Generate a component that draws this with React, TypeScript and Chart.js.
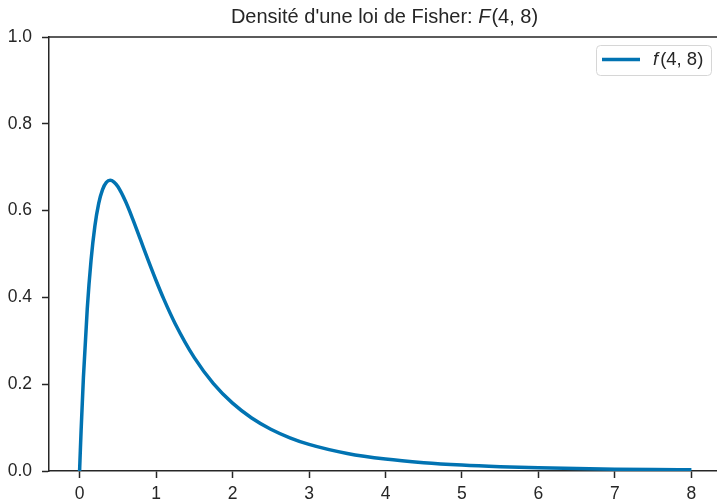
import React, { useEffect, useRef } from "react";
import { Chart, registerables } from "chart.js";

Chart.register(...registerables);

const xValues = [0, 0.005, 0.01, 0.02, 0.05, 0.1, 0.15, 0.2, 0.25, 0.3, 0.35, 0.4, 0.45, 0.5, 0.6, 0.7, 0.8, 0.9, 1.0, 1.1, 1.25, 1.5, 1.75, 2.0, 2.25, 2.5, 2.75, 3.0, 3.5, 4.0, 4.5, 5.0, 5.5, 6.0, 6.5, 7.0, 7.5, 8.0];
const densityValues = [0, 0.0246, 0.0485, 0.0942, 0.2156, 0.3731, 0.486, 0.5645, 0.6166, 0.6485, 0.665, 0.6698, 0.6658, 0.6554, 0.6215, 0.5782, 0.5312, 0.4842, 0.439, 0.3966, 0.3394, 0.2611, 0.2014, 0.1563, 0.1222, 0.0963, 0.0766, 0.0614, 0.0405, 0.0274, 0.0191, 0.0136, 0.0099, 0.0073, 0.0055, 0.0042, 0.0033, 0.0026];
const xTicks = [0, 1, 2, 3, 4, 5, 6, 7, 8];
const yTicks = [0, 0.2, 0.4, 0.6, 0.8, 1.0];

const INK = "#262626";
const LINE = "#0173b2";
const FONT = "'Liberation Sans', Arial, sans-serif";
const TITLE_SIZE = 20;
const TICK_SIZE = 17.5;
const LEGEND_SIZE = 18.5;

const decor = {
  id: "decor",
  afterDraw(chart: any) {
    const { ctx, chartArea } = chart;
    const { left, right, top, bottom } = chartArea;
    ctx.save();
    // top & right spines
    ctx.strokeStyle = INK;
    ctx.lineWidth = 1.5;
    ctx.beginPath();
    ctx.moveTo(left, top);
    ctx.lineTo(right, top);
    ctx.lineTo(right, bottom);
    ctx.stroke();

    // title
    ctx.fillStyle = INK;
    ctx.textBaseline = "alphabetic";
    const p1 = "Densité d'une loi de Fisher: ";
    const p2 = "F";
    const p3 = "(4, 8)";
    ctx.font = `${TITLE_SIZE}px ${FONT}`;
    const w1 = ctx.measureText(p1).width;
    const w3 = ctx.measureText(p3).width;
    ctx.font = `italic ${TITLE_SIZE}px ${FONT}`;
    const w2 = ctx.measureText(p2).width;
    const total = w1 + w2 + w3 + 1;
    let x = (left + right) / 2 - total / 2 - 1;
    const ty = 23;
    ctx.textAlign = "left";
    ctx.font = `${TITLE_SIZE}px ${FONT}`;
    ctx.fillText(p1, x, ty);
    x += w1;
    ctx.font = `italic ${TITLE_SIZE}px ${FONT}`;
    ctx.fillText(p2, x, ty);
    x += w2 + 1;
    ctx.font = `${TITLE_SIZE}px ${FONT}`;
    ctx.fillText(p3, x, ty);

    // legend
    const bx = 596.5, by = 45.5, bw = 115, bh = 30, r = 4;
    ctx.fillStyle = "rgba(255,255,255,0.8)";
    ctx.strokeStyle = "#d6d6d6";
    ctx.lineWidth = 1;
    ctx.beginPath();
    ctx.moveTo(bx + r, by);
    ctx.lineTo(bx + bw - r, by);
    ctx.arcTo(bx + bw, by, bx + bw, by + r, r);
    ctx.lineTo(bx + bw, by + bh - r);
    ctx.arcTo(bx + bw, by + bh, bx + bw - r, by + bh, r);
    ctx.lineTo(bx + r, by + bh);
    ctx.arcTo(bx, by + bh, bx, by + bh - r, r);
    ctx.lineTo(bx, by + r);
    ctx.arcTo(bx, by, bx + r, by, r);
    ctx.closePath();
    ctx.fill();
    ctx.stroke();
    ctx.strokeStyle = LINE;
    ctx.lineWidth = 3.5;
    ctx.beginPath();
    ctx.moveTo(602, 59.5);
    ctx.lineTo(640, 59.5);
    ctx.stroke();
    ctx.fillStyle = INK;
    ctx.textBaseline = "middle";
    ctx.font = `italic ${LEGEND_SIZE}px ${FONT}`;
    ctx.fillText("f", 653, 60);
    const fw = ctx.measureText("f").width;
    ctx.font = `${LEGEND_SIZE}px ${FONT}`;
    ctx.fillText("(4, 8)", 653 + fw + 2, 60);
    ctx.restore();
  },
};

export default function App() {
  const ref = useRef<HTMLCanvasElement>(null);
  useEffect(() => {
    const canvas = ref.current!;
    const points = xValues.map((x, i) => ({ x, y: densityValues[i] }));
    const chart = new Chart(canvas, {
      type: "line",
      data: {
        datasets: [
          {
            label: "f(4, 8)",
            data: points,
            borderColor: LINE,
            borderWidth: 3.5,
            pointRadius: 0,
            fill: false,
            cubicInterpolationMode: "monotone",
          },
        ],
      },
      options: {
        responsive: false,
        animation: false,
        devicePixelRatio: 1,
        layout: { padding: { left: 0, right: 0, top: 37, bottom: 0 } },
        plugins: { legend: { display: false }, title: { display: false }, tooltip: { enabled: false } },
        scales: {
          x: {
            type: "linear",
            min: -0.4,
            max: 8.4,
            afterBuildTicks: (s: any) => {
              s.ticks = xTicks.map((v) => ({ value: v }));
            },
            afterFit: (s: any) => {
              s.height = 33;
            },
            grid: { display: true, drawOnChartArea: false, drawTicks: true, tickLength: 7, tickColor: INK, tickWidth: 1.5 },
            border: { display: true, color: INK, width: 1.5 },
            ticks: { color: INK, font: { family: FONT, size: TICK_SIZE }, padding: 6, maxRotation: 0, callback: (v: any) => String(v) },
          },
          y: {
            type: "linear",
            min: 0,
            max: 1,
            afterBuildTicks: (s: any) => {
              s.ticks = yTicks.map((v) => ({ value: v }));
            },
            afterFit: (s: any) => {
              s.width = 49;
            },
            grid: { display: true, drawOnChartArea: false, drawTicks: true, tickLength: 7, tickColor: INK, tickWidth: 1.5 },
            border: { display: true, color: INK, width: 1.5 },
            ticks: { color: INK, font: { family: FONT, size: TICK_SIZE }, padding: 10, callback: (v: any) => Number(v).toFixed(1) },
          },
        },
      },
      plugins: [decor],
    });
    return () => chart.destroy();
  }, []);
  return (
    <div style={{ position: "fixed", left: 0, top: 0, width: 717, height: 504, overflow: "hidden", background: "#fff" }}>
      <canvas ref={ref} width={722} height={504} style={{ display: "block", width: 722, height: 504 }} />
    </div>
  );
}
